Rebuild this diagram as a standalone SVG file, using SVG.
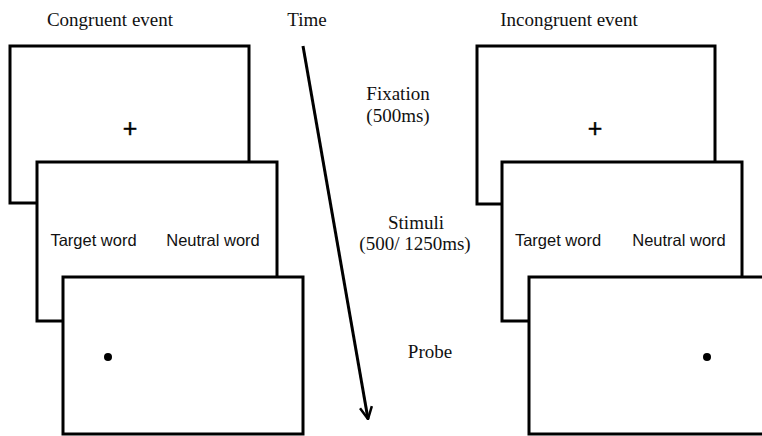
<svg xmlns="http://www.w3.org/2000/svg" width="762" height="436" viewBox="0 0 762 436">
<style>
.scr{fill:#fff;stroke:#000;stroke-width:3}
.ser{font-family:"Liberation Serif","Times New Roman",serif;font-size:19px;fill:#111;text-anchor:middle}
.san{font-family:"Liberation Sans",Arial,sans-serif;font-size:16.5px;fill:#111;text-anchor:middle}
.plus{font-family:"Liberation Sans",Arial,sans-serif;font-size:25px;fill:#000;text-anchor:middle;stroke:#000;stroke-width:0.4}
</style>
<defs>
<marker id="ah" viewBox="0 0 14 14" refX="13" refY="7" markerWidth="14" markerHeight="14" markerUnits="userSpaceOnUse" orient="auto">
<path d="M1,1 L13,7 L1,13" fill="none" stroke="#000" stroke-width="2.5"/>
</marker>
</defs>
<rect width="762" height="436" fill="#fff"/>
<g id="titles">
<text class="ser" x="110" y="26">Congruent event</text>
<text class="ser" x="307" y="26">Time</text>
<text class="ser" x="569" y="26">Incongruent event</text>
</g>
<g id="phase-labels">
<text class="ser" x="398" y="100">Fixation</text>
<text class="ser" x="398" y="122">(500ms)</text>
<text class="ser" x="416" y="229">Stimuli</text>
<text class="ser" x="415" y="250">(500/ 1250ms)</text>
<text class="ser" x="430" y="358">Probe</text>
</g>
<g id="congruent-fixation">
<rect class="scr" x="10" y="46" width="239" height="157"/>
<text class="plus" x="130" y="137">+</text>
</g>
<g id="congruent-stimuli">
<rect class="scr" x="37" y="162" width="240" height="159"/>
<text class="san" x="93.5" y="246">Target word</text>
<text class="san" x="213" y="246">Neutral word</text>
</g>
<g id="congruent-probe">
<rect class="scr" x="63" y="277" width="240" height="157"/>
<circle cx="108" cy="357" r="4" fill="#000"/>
</g>
<g id="incongruent-fixation">
<rect class="scr" x="477" y="46" width="238" height="158"/>
<text class="plus" x="595" y="137">+</text>
</g>
<g id="incongruent-stimuli">
<rect class="scr" x="502" y="162" width="240" height="159"/>
<text class="san" x="558" y="246">Target word</text>
<text class="san" x="679" y="246">Neutral word</text>
</g>
<g id="incongruent-probe">
<rect class="scr" x="529" y="277" width="240" height="157"/>
<circle cx="707" cy="357" r="4" fill="#000"/>
</g>
<g id="connectors">
<line x1="303" y1="46" x2="368" y2="419" stroke="#000" stroke-width="3" marker-end="url(#ah)"/>
</g>
</svg>
